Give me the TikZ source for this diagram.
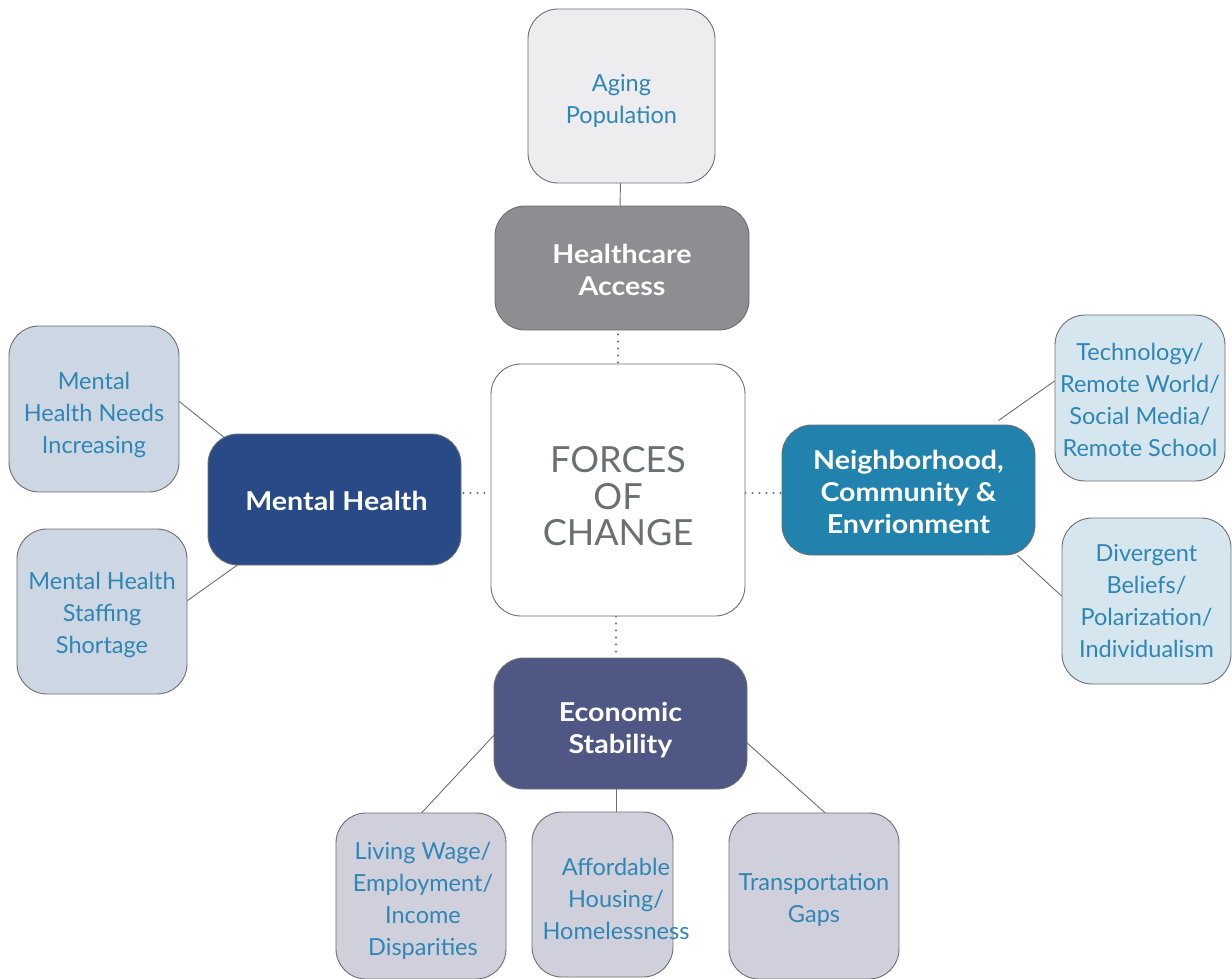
\documentclass[tikz,border=0pt]{standalone}
\usepackage{fontspec}
\setmainfont{Lato}[BoldFeatures={FakeStretch=1.1}]
\usetikzlibrary{backgrounds,calc}
\definecolor{edge}{HTML}{6D6E71}
\definecolor{subtext}{HTML}{2F86B4}
\definecolor{agingfill}{HTML}{EDEDEF}
\definecolor{hcfill}{HTML}{8E8D92}
\definecolor{mhfill}{HTML}{284B87}
\definecolor{ncefill}{HTML}{2282AE}
\definecolor{esfill}{HTML}{4F5784}
\definecolor{mhsub}{HTML}{CDD7E3}
\definecolor{ncesub}{HTML}{D6E6EF}
\definecolor{essub}{HTML}{D0D0DC}
\definecolor{forcestext}{HTML}{6D6E71}
\begin{document}
\begin{tikzpicture}[x=1pt,y=-1pt,
  box/.style={draw=edge, line width=0.9pt, rounded corners=30pt, inner sep=0pt},
  sublbl/.style={inner sep=0pt, align=center, text=subtext, font=\fontsize{23.5}{32}\selectfont},
  mainlbl/.style={inner sep=0pt, align=center, text=white, font=\bfseries\fontsize{26}{32}\selectfont},
  foclbl/.style={inner sep=0pt, align=center, text=forcestext, font=\fontsize{36}{36.5}\selectfont},
  solidlink/.style={draw=edge, line width=0.9pt},
  dotlink/.style={draw=edge, line width=2.2pt, line cap=round, dash pattern=on 0pt off 7pt}
]
\useasboundingbox (0,0) rectangle (1232,979);

\node[box, fill=agingfill, minimum width=187pt, minimum height=174pt,
  label={[sublbl, yshift=-4.5pt]center:{Aging\\Population}}] (aging) at (621.5,96) {};
\node[box, fill=hcfill, minimum width=254pt, minimum height=124pt,
  label={[mainlbl, yshift=-2pt]center:{Healthcare\\Access}}] (hc) at (622,268) {};
\node[box, fill=white, minimum width=254pt, minimum height=252pt,
  label={[foclbl, yshift=-6.5pt]center:{FORCES\\OF\\CHANGE}}] (foc) at (618,490) {};
\node[box, fill=mhfill, minimum width=253pt, minimum height=131pt,
  label={[mainlbl, yshift=-1pt, xshift=2pt]center:{Mental Health}}] (mh) at (334.5,499.5) {};
\node[box, fill=ncefill, minimum width=253pt, minimum height=130pt,
  label={[mainlbl, yshift=-2pt]center:{Neighborhood,\\Community \&\\Envrionment}}] (nce) at (908.5,490) {};
\node[box, fill=esfill, minimum width=253pt, minimum height=131pt,
  label={[mainlbl, yshift=-7pt]center:{Economic\\Stability}}] (es) at (620.5,723.5) {};

\node[box, fill=mhsub, minimum width=170pt, minimum height=166pt,
  label={[sublbl, yshift=-5.5pt]center:{Mental\\Health Needs\\Increasing}}] (mhni) at (94,409) {};
\node[box, fill=mhsub, minimum width=170pt, minimum height=165pt,
  label={[sublbl, yshift=-3pt]center:{Mental Health\\Staffing\\Shortage}}] (mhss) at (102,611.5) {};
\node[box, fill=ncesub, minimum width=170pt, minimum height=166pt,
  label={[sublbl, yshift=-2pt]center:{Technology/\\Remote World/\\Social Media/\\Remote School}}] (tech) at (1140,398) {};
\node[box, fill=ncesub, minimum width=169pt, minimum height=166pt,
  label={[sublbl]center:{Divergent\\Beliefs/\\Polarization/\\Individualism}}] (div) at (1146.5,601) {};
\node[box, fill=essub, minimum width=170pt, minimum height=166pt,
  label={[sublbl, yshift=-5pt, xshift=2pt]center:{Living Wage/\\Employment/\\Income\\Disparities}}] (lw) at (421,896) {};
\node[box, fill=essub, minimum width=141pt, minimum height=165pt,
  label={[sublbl, yshift=-4pt, xshift=13.5pt]center:{Affordable\\Housing/\\Homelessness}}] (ah) at (602.5,894.5) {};
\node[box, fill=essub, minimum width=170pt, minimum height=166pt,
  label={[sublbl, yshift=-4pt]center:{Transportation\\Gaps}}] (tg) at (814,896) {};

\begin{pgfonlayer}{background}
\draw[solidlink] ($(aging.south)+(-1,-2)$) -- ($(hc.north)+(-2,2)$);
\draw[dotlink] ($(hc.south)+(-4,4)$) -- ($(foc.north)+(0,-1)$);
\draw[dotlink] ($(mh.east)+(2,-6.5)$) -- ($(foc.west)+(0,3)$);
\draw[dotlink] ($(foc.east)+(0,3)$) -- ($(nce.west)+(0,3)$);
\draw[dotlink] ($(foc.south)+(-2,0)$) -- ($(es.north)+(-4.5,0)$);
\draw[solidlink] ($(mhni.east)+(-2,-9)$) -- ($(mh.north west)+(18,5)$);
\draw[solidlink] ($(mhss.east)+(-2,-9.5)$) -- ($(mh.south west)+(32,-2)$);
\draw[solidlink] ($(tech.west)+(0,-17)$) -- ($(nce.north east)+(-37,-4)$);
\draw[solidlink] ($(div.west)+(0,-5)$) -- ($(nce.south east)+(-18,0)$);
\draw[solidlink] ($(es.west)+(2,10)$) -- ($(lw.north)+(-1,2)$);
\draw[solidlink] ($(es.south)+(-4.5,-2)$) -- ($(ah.north)+(13.5,2)$);
\draw[solidlink] ($(es.east)+(-2,18)$) -- ($(tg.north)+(13,2)$);
\end{pgfonlayer}
\end{tikzpicture}
\end{document}
